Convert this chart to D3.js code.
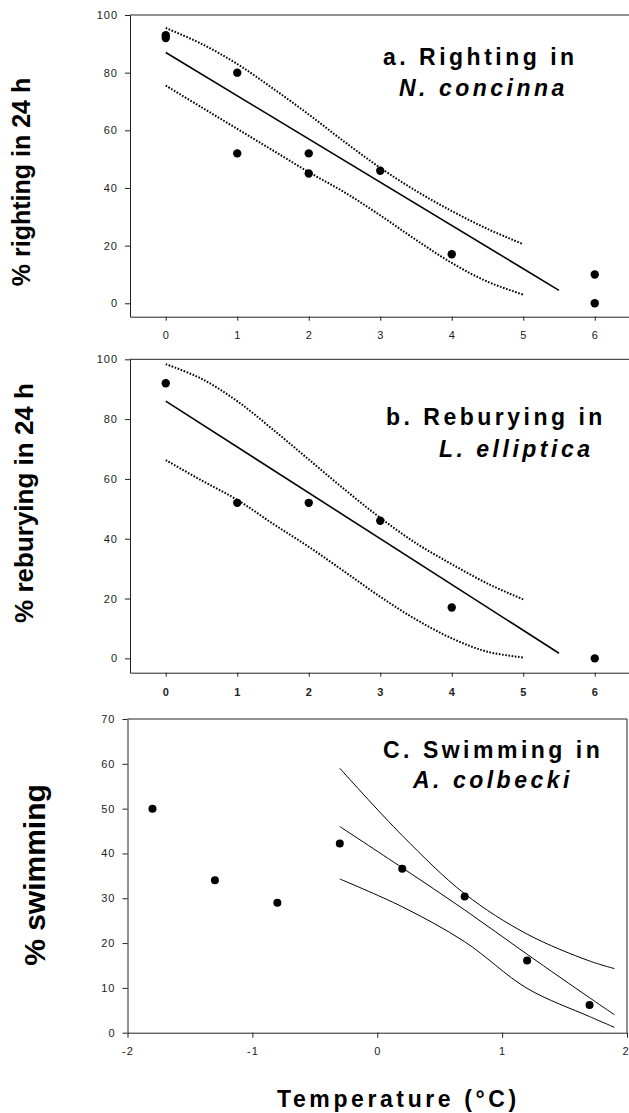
<!DOCTYPE html>
<html><head><meta charset="utf-8">
<script src="https://cdn.jsdelivr.net/npm/d3@7"></script>
<style>
html,body{margin:0;padding:0;background:#fff;}
svg{display:block;font-family:"Liberation Sans",Arial,sans-serif;}
.tick text{fill:#222;font-size:11px;letter-spacing:1px;}
.domain,.tick line{stroke:#222;}
</style></head><body>
<svg id="chart" width="629" height="1113"></svg>
<script>
// ---------- data ----------
const xTicksAB = [0,1,2,3,4,5,6];
const yTicksAB = [0,20,40,60,80,100];
const xTicksC = [-2,-1,0,1,2];
const yTicksC = [0,10,20,30,40,50,60,70];

// panel a
const rightX = [0,0,1,1,2,2,3,4,6,6];
const rightY = [92,93,80,52,52,45,46,17,10,0];
const fitAX = [0,5.5];
const fitAY = [87,4.5];
const ciX = [0,0.5,1,1.5,2,2.5,3,3.5,4,4.5,5];
const ciAUp = [95.5,90,83,74.5,65.5,56,47,39,32,25.8,20.5];
const ciALo = [75.5,68,60.5,53,45.5,38.5,30.5,22,14,7.5,3];

// panel b
const rebX = [0,1,2,3,4,6];
const rebY = [92,52,52,46,17,0];
const fitBX = [0,5.5];
const fitBY = [86,1.7];
const ciBUp = [98.4,93.5,86,76.5,66.5,56.5,47,38.5,31.5,25,19.7];
const ciBLo = [66.3,59.5,53,45,37.3,29,20.6,13,6.7,2.2,0.3];

// panel c
const swimX = [-1.8,-1.3,-0.8,-0.3,0.2,0.7,1.2,1.7];
const swimY = [50,34,29,42.2,36.6,30.4,16.1,6.2];
const curveCX = [-0.3,0.2,0.7,1.2,1.7,1.9];
const curveCUp = [59,44,31,22,16,14.3];
const curveCMid = [46,36.8,27.4,17.5,7.8,4.0];
const curveCLo = [34.3,28.1,20.3,9.9,3.6,1.2];

// ---------- drawing ----------
const svg = d3.select("#chart");
const fmt = d => String(d);

function panelAB(opts){
  const g = svg.append("g");
  const x = d3.scaleLinear().domain([-0.5,6.5]).range([130,630.5]);
  const y = d3.scaleLinear().domain([opts.yMin,100]).range([opts.bottom,opts.top]);
  const xa = g.append("g").attr("transform",`translate(0,${opts.bottom})`)
    .call(d3.axisBottom(x).tickValues(xTicksAB).tickFormat(fmt).tickSize(4).tickSizeOuter(0).tickPadding(opts.xPad));
  if(opts.boldX) xa.selectAll("text").style("font-weight","bold");
  g.append("g").attr("transform","translate(130,0)")
    .call(d3.axisLeft(y).tickValues(yTicksAB).tickFormat(fmt).tickSize(5).tickSizeOuter(0).tickPadding(7));
  g.append("line").attr("x1",130).attr("x2",629).attr("y1",opts.top).attr("y2",opts.top)
    .attr("stroke","#222");
  const line = d3.line().x(d=>x(d[0])).y(d=>y(d[1]));
  const cline = d3.line().x(d=>x(d[0])).y(d=>y(d[1])).curve(d3.curveCatmullRom.alpha(0.5));
  [opts.up,opts.lo].forEach(arr=>{
    g.append("path").attr("d",cline(ciX.map((v,i)=>[v,arr[i]])))
      .attr("fill","none").attr("stroke","#000").attr("stroke-width",2)
      .attr("stroke-dasharray","1.6,1.6");
  });
  g.append("path").attr("d",line(opts.fx.map((v,i)=>[v,opts.fy[i]])))
    .attr("fill","none").attr("stroke","#000").attr("stroke-width",1.6);
  g.selectAll("circle.pt").data(opts.px.map((v,i)=>[v,opts.py[i]])).enter()
    .append("circle").attr("cx",d=>x(d[0])).attr("cy",d=>y(d[1])).attr("r",4.2).attr("fill","#000");
}

panelAB({top:15,bottom:316.7,yMin:-4.65,xPad:10.5,boldX:false,
  px:rightX,py:rightY,fx:fitAX,fy:fitAY,up:ciAUp,lo:ciALo});
panelAB({top:359.3,bottom:672.7,yMin:-4.8,xPad:11.5,boldX:true,
  px:rebX,py:rebY,fx:fitBX,fy:fitBY,up:ciBUp,lo:ciBLo});

// panel c
(function(){
  const g = svg.append("g");
  const x = d3.scaleLinear().domain([-2,2]).range([127.5,627]);
  const y = d3.scaleLinear().domain([0,70]).range([1032.7,719]);
  const xa = g.append("g").attr("transform","translate(0,1032.7)")
    .call(d3.axisBottom(x).tickValues(xTicksC).tickFormat(fmt).tickSize(5).tickSizeOuter(0).tickPadding(10));
  xa.selectAll(".tick text").filter(d=>d===2).attr("text-anchor","end").attr("dx","2px");
  g.append("g").attr("transform","translate(127.5,0)")
    .call(d3.axisLeft(y).tickValues(yTicksC).tickFormat(fmt).tickSize(5).tickSizeOuter(0).tickPadding(7));
  g.append("path").attr("d",`M127.5,719H627V1032.7`).attr("fill","none").attr("stroke","#222");
  const cl = d3.line().x(d=>x(d[0])).y(d=>y(d[1])).curve(d3.curveCatmullRom.alpha(0.5));
  [curveCUp,curveCMid,curveCLo].forEach(arr=>{
    g.append("path").attr("d",cl(curveCX.map((v,i)=>[v,arr[i]])))
      .attr("fill","none").attr("stroke","#000").attr("stroke-width",1);
  });
  g.selectAll("circle.pt").data(swimX.map((v,i)=>[v,swimY[i]])).enter()
    .append("circle").attr("cx",d=>x(d[0])).attr("cy",d=>y(d[1])).attr("r",4).attr("fill","#000");
})();

// titles
function title(x,y,txt,italic){
  svg.append("text").attr("x",x).attr("y",y).text(txt)
    .style("font-size","23px").style("font-weight","bold").style("letter-spacing","3.5px")
    .style("font-style",italic?"italic":"normal").attr("fill","#000");
}
title(383,65,"a. Righting in",false);
title(399,96,"N. concinna",true);
title(386,425,"b.  Reburying in",false);
title(439,457,"L. elliptica",true);
title(383,758,"C. Swimming in",false);
title(413,788,"A. colbecki",true);

// y labels
function ylab(x,y,txt,size){
  svg.append("text").attr("transform",`translate(${x},${y}) rotate(-90)`)
    .attr("text-anchor","middle").text(txt)
    .style("font-size",size+"px").style("font-weight","bold").attr("fill","#000");
}
ylab(30,182,"% righting in 24 h",25);
ylab(33,503,"% reburying in 24 h",26);
ylab(45,875,"% swimming",30);

svg.append("text").attr("x",277).attr("y",1107).text("Temperature (°C)")
  .style("font-size","23px").style("font-weight","bold").style("letter-spacing","3.6px").attr("fill","#000");
</script>
</body></html>
